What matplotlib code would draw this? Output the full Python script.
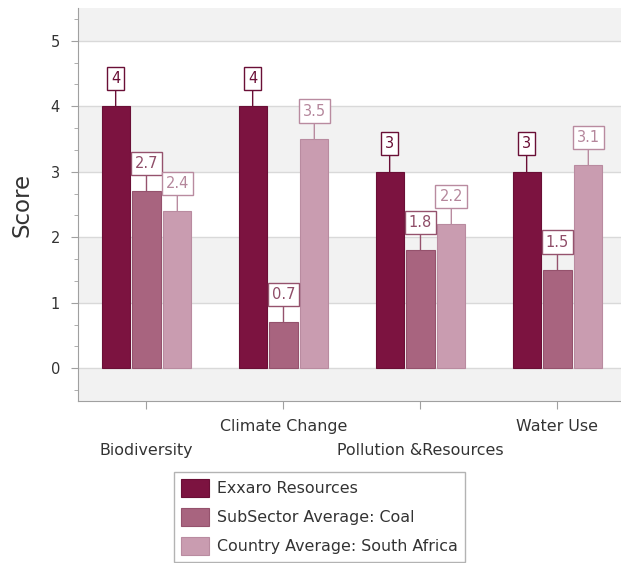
import numpy as np
import matplotlib
matplotlib.use("Agg")
import matplotlib.pyplot as plt
import matplotlib.patches as mpatches
from matplotlib.ticker import MultipleLocator

# ==== Data ====
categories = ["Biodiversity", "Climate Change", "Pollution &Resources", "Water Use"]
series_names = ["Exxaro Resources", "SubSector Average: Coal", "Country Average: South Africa"]
exxaro = [4, 4, 3, 3]
subsector = [2.7, 0.7, 1.8, 1.5]
country = [2.4, 3.5, 2.2, 3.1]

colors = ["#7c1340", "#a8647f", "#c99cb0"]
edge_colors = ["#6a0f36", "#95526d", "#b98ba0"]
text_colors = ["#6a0f36", "#8f4d68", "#b5879c"]

plt.rcParams['font.family'] = ['DejaVu Sans']

fig = plt.figure(figsize=(6.21, 5.63), dpi=100)
ax = fig.add_axes([0.1256, 0.2877, 0.878, 0.698])

x = np.arange(len(categories))
bar_w = 0.205
step = 0.225

# ==== Background bands ====
for lo, hi in [(-0.5, 0), (1, 2), (3, 4), (5, 5.5)]:
    ax.axhspan(lo, hi, color="#f2f2f2", zorder=0, lw=0)
for yv in range(0, 6):
    ax.axhline(yv, color="#d9d9d9", lw=1, zorder=0.5)

# ==== Bars and value labels ====
for i, (vals, col) in enumerate(zip([exxaro, subsector, country], colors)):
    pos = x + (i - 1) * step
    ax.bar(pos, vals, width=bar_w, color=col, edgecolor=edge_colors[i],
           linewidth=0.8, zorder=2, label=series_names[i])
    for px, v in zip(pos, vals):
        lbl = f"{v:g}"
        ax.annotate(lbl, xy=(px, v), xytext=(0, 28), textcoords="offset pixels",
                    ha="center", va="center", fontsize=10.5, color=text_colors[i],
                    bbox=dict(boxstyle="square,pad=0.28", fc="white",
                              ec=edge_colors[i], lw=1),
                    arrowprops=dict(arrowstyle="-", color=edge_colors[i], lw=1,
                                    shrinkA=0, shrinkB=0),
                    zorder=3)

# ==== Axes styling ====
ax.set_xlim(-0.5, 3.48)
ax.set_ylim(-0.5, 5.5)
ax.yaxis.set_major_locator(MultipleLocator(1))
ax.yaxis.set_minor_locator(MultipleLocator(1 / 3))
ax.set_xticks(x)
ax.set_xticklabels([])
# staggered category labels
for i, cat in enumerate(categories):
    off = -25 if i % 2 == 1 else -49
    ax.annotate(cat, xy=(x[i], -0.5), xytext=(0, off), textcoords="offset pixels",
                ha="center", va="center", fontsize=11.4, color="#333333",
                annotation_clip=False)

for s in ["top", "right"]:
    ax.spines[s].set_visible(False)
for s in ["left", "bottom"]:
    ax.spines[s].set_color("#a0a0a0")
ax.tick_params(axis="y", which="major", length=5, color="#a0a0a0", labelsize=10.5,
               labelcolor="#333333", pad=8)
ax.tick_params(axis="y", which="minor", length=3, color="#a0a0a0")
ax.tick_params(axis="x", length=6, color="#a0a0a0")
ax.set_ylabel("Score", fontsize=16.5, color="#333333", labelpad=12)

# ==== Legend ====
handles = [mpatches.Patch(facecolor=c, edgecolor=e, lw=0.8, label=n)
           for c, e, n in zip(colors, edge_colors, series_names)]
fig.legend(handles=handles, loc="upper center", bbox_to_anchor=(0.5145, 0.162),
           fontsize=11.4, frameon=True, fancybox=False, edgecolor="#a0a0a0",
           handlelength=1.77, handleheight=1.39, labelspacing=0.69,
           handletextpad=0.5, borderpad=0.45, borderaxespad=0,
           labelcolor="#333333")

fig.savefig("out.png", dpi=100)
